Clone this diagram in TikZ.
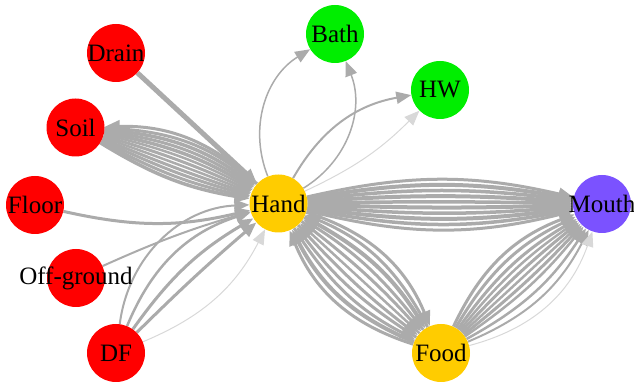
\documentclass[tikz,border=0pt]{standalone}
\usepackage{fontspec}
\setmainfont{Liberation Serif}
\usetikzlibrary{arrows.meta}
\pgfdeclarelayer{bg}
\pgfsetlayers{bg,main}
\definecolor{eg}{HTML}{ABABAB}
\definecolor{ef}{HTML}{D8D8D8}
\definecolor{vred}{HTML}{FF0000}
\definecolor{vgreen}{HTML}{00EE00}
\definecolor{vgold}{HTML}{FFCC00}
\definecolor{vpurple}{HTML}{7B52FF}
\begin{document}
\begin{tikzpicture}[x=1pt,y=1pt,
  vtx/.style={circle,minimum size=58pt,inner sep=0pt,fill=#1,draw=none},
  every label/.style={font=\fontsize{25}{25}\selectfont,text=black,inner sep=0pt},
  tipf/.tip={Triangle[length=15pt,width=12pt]},
  lnk/.style={draw=eg,-tipf},
  lnkb/.style={draw=eg,tipf-},
  faint/.style={draw=ef},
]
\useasboundingbox (0,0) rectangle (634,387);
% vertices
\node[vtx=vred,label=center:Drain] (drain) at (116,334) {};
\node[vtx=vred,label=center:Soil] (soil) at (75.5,259.5) {};
\node[vtx=vred,label=center:Floor] (floor) at (35,182) {};
\node[vtx=vred,label=center:Off-ground] (off) at (76,109) {};
\node[vtx=vred,label=center:DF] (df) at (116,34) {};
\node[vtx=vgold,label=center:Hand] (hand) at (278.5,183.5) {};
\node[vtx=vgreen,label=center:Bath] (bath) at (335,353) {};
\node[vtx=vgreen,label=center:HW] (hw) at (440,297) {};
\node[vtx=vpurple,label=center:Mouth] (mouth) at (602,183) {};
\node[vtx=vgold,label=center:Food] (food) at (441,34) {};
\begin{pgfonlayer}{bg}
% Drain -> Hand
\draw[lnk,line width=5pt] (drain) -- (hand);
% Soil <-> Hand
\draw[lnkb,line width=3pt] (soil) to[bend left=22] (hand);
\draw[lnk,line width=3pt] (soil) to[bend left=19] (hand);
\draw[lnk,line width=3.5pt] (soil) to[bend left=16] (hand);
\draw[lnk,line width=3pt] (soil) to[bend left=13] (hand);
\draw[lnk,line width=3.5pt] (soil) to[bend left=10] (hand);
\draw[lnk,line width=2.5pt] (soil) to[bend left=7] (hand);
\draw[lnk,line width=3pt] (soil) to[bend left=4] (hand);
\draw[lnk,line width=2.5pt] (soil) to[bend left=1] (hand);
\draw[lnk,line width=3pt] (soil) to[bend right=2] (hand);
\draw[lnk,line width=3pt] (soil) to[bend right=5] (hand);
\draw[lnk,line width=3pt] (soil) to[bend right=8] (hand);
\draw[lnk,line width=3.5pt] (soil) to[bend right=11] (hand);
% Floor -> Hand
\draw[lnk,line width=3pt] (floor) to[bend right=13] (hand);
% Off-ground -> Hand
\draw[lnk,line width=2pt] (off) to[bend left=4] (hand);
% DF -> Hand
\draw[lnk,line width=2pt] (df) to[bend left=40] (hand);
\draw[lnk,line width=2.5pt] (df) to[bend left=25] (hand);
\draw[lnk,line width=3pt] (df) to[bend left=12] (hand);
\draw[lnk,line width=3pt] (df) to[bend left=2] (hand);
\draw[lnk,faint,line width=1pt] (df) to[bend right=20] (hand);
% Hand -> Bath
\draw[lnk,line width=1.5pt] (hand) to[bend left=40] (bath);
\draw[lnk,line width=1.5pt] (hand) to[bend right=40] (bath);
% Hand -> HW
\draw[lnk,line width=2pt] (hand) to[bend left=25] (hw);
\draw[lnk,faint,line width=1pt] (hand) to[bend right=10] (hw);
% Hand -> Mouth
\draw[lnk,line width=3pt] (hand) to[bend left=13] (mouth);
\draw[lnk,line width=4pt] (hand) to[bend left=10] (mouth);
\draw[lnk,line width=3.5pt] (hand) to[bend left=7] (mouth);
\draw[lnk,line width=4pt] (hand) to[bend left=4] (mouth);
\draw[lnk,line width=3.5pt] (hand) to[bend left=1] (mouth);
\draw[lnk,line width=4pt] (hand) to[bend right=2] (mouth);
\draw[lnk,line width=3.5pt] (hand) to[bend right=5] (mouth);
\draw[lnk,line width=4pt] (hand) to[bend right=8] (mouth);
\draw[lnk,line width=3.5pt] (hand) to[bend right=11] (mouth);
\draw[lnk,line width=3pt] (hand) to[bend right=14] (mouth);
% Hand <-> Food
\draw[lnk,line width=3pt] (hand) to[bend left=25] (food);
\draw[lnkb,line width=3pt] (hand) to[bend left=20] (food);
\draw[lnk,line width=4pt] (hand) to[bend left=15] (food);
\draw[lnkb,line width=3pt] (hand) to[bend left=10] (food);
\draw[lnk,line width=3pt] (hand) to[bend left=5] (food);
\draw[lnkb,line width=2.5pt] (hand) to[bend left=0] (food);
\draw[lnk,line width=3pt] (hand) to[bend right=5] (food);
\draw[lnkb,line width=3pt] (hand) to[bend right=10] (food);
\draw[lnk,line width=3pt] (hand) to[bend right=15] (food);
\draw[lnkb,line width=4pt] (hand) to[bend right=20] (food);
\draw[lnkb,line width=3pt] (hand) to[bend right=25] (food);
% Food -> Mouth
\draw[lnk,line width=3pt] (food) to[bend left=22] (mouth);
\draw[lnk,line width=3pt] (food) to[bend left=17] (mouth);
\draw[lnk,line width=3pt] (food) to[bend left=12] (mouth);
\draw[lnk,line width=2.5pt] (food) to[bend left=8] (mouth);
\draw[lnk,line width=3pt] (food) to[bend left=4] (mouth);
\draw[lnk,line width=2.5pt] (food) to[bend left=0] (mouth);
\draw[lnk,line width=3pt] (food) to[bend right=4] (mouth);
\draw[lnk,line width=2.5pt] (food) to[bend right=8] (mouth);
\draw[lnk,line width=2.5pt] (food) to[bend right=14] (mouth);
\draw[lnk,line width=2pt] (food) to[bend right=20] (mouth);
\draw[lnk,faint,line width=1pt] (food) to[bend right=28] (mouth);
\end{pgfonlayer}
\end{tikzpicture}
\end{document}
